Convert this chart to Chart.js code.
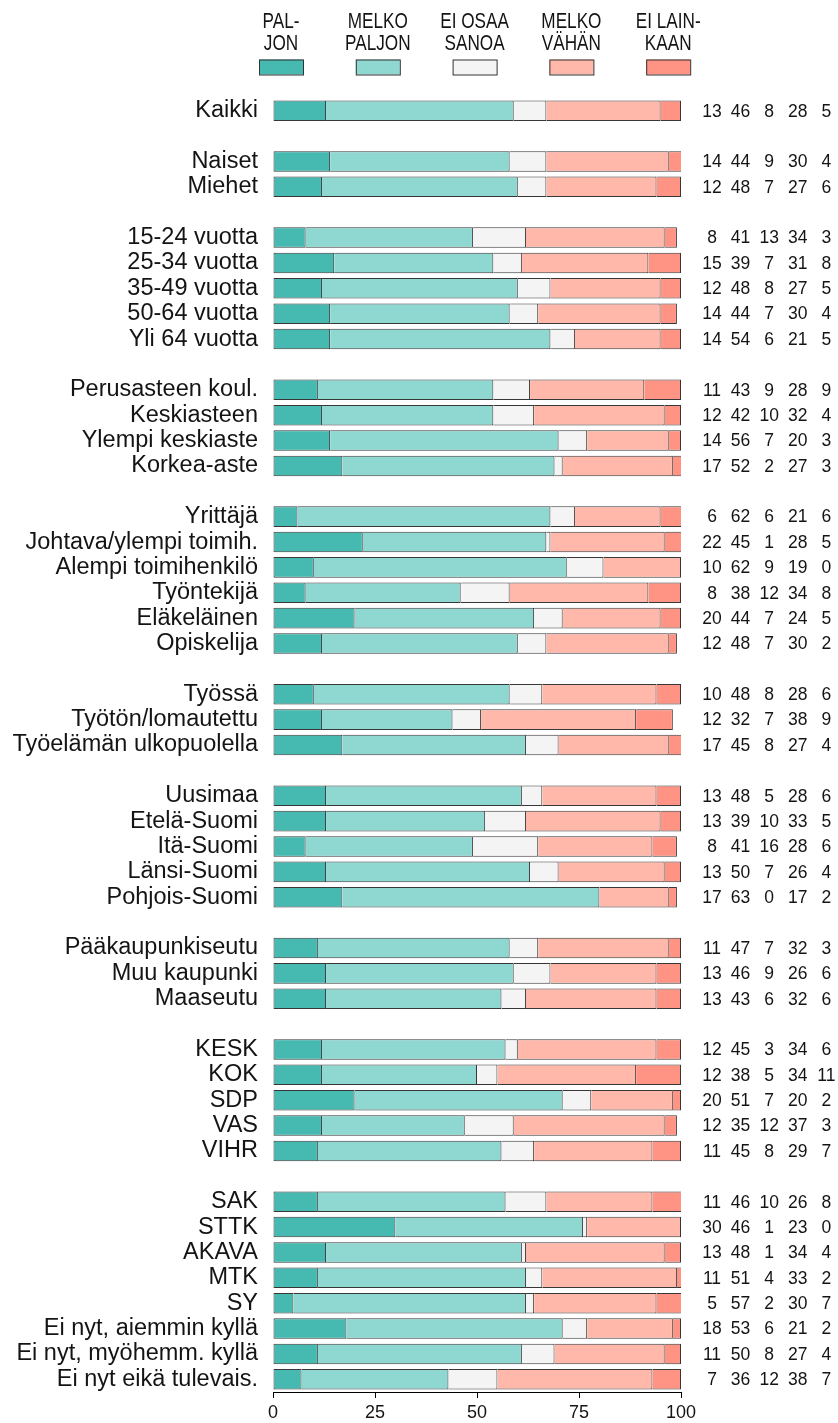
<!DOCTYPE html>
<html lang="fi">
<head>
<meta charset="utf-8">
<title>Kannatus taustaryhmittäin</title>
<script src="https://cdn.jsdelivr.net/npm/chart.js@4/dist/chart.umd.min.js"></script>
<style>
  html, body { margin: 0; padding: 0; background: #ffffff; }
  #wrap { position: relative; width: 838px; height: 1423px; }
</style>
</head>
<body>
<div id="wrap"><canvas id="chart"></canvas></div>
<script>
// Row labels; empty strings are spacer rows between groups
const categories = [
  'Kaikki', '',
  'Naiset', 'Miehet', '',
  '15-24 vuotta', '25-34 vuotta', '35-49 vuotta', '50-64 vuotta', 'Yli 64 vuotta', '',
  'Perusasteen koul.', 'Keskiasteen', 'Ylempi keskiaste', 'Korkea-aste', '',
  'Yrittäjä', 'Johtava/ylempi toimih.', 'Alempi toimihenkilö', 'Työntekijä', 'Eläkeläinen', 'Opiskelija', '',
  'Työssä', 'Työtön/lomautettu', 'Työelämän ulkopuolella', '',
  'Uusimaa', 'Etelä-Suomi', 'Itä-Suomi', 'Länsi-Suomi', 'Pohjois-Suomi', '',
  'Pääkaupunkiseutu', 'Muu kaupunki', 'Maaseutu', '',
  'KESK', 'KOK', 'SDP', 'VAS', 'VIHR', '',
  'SAK', 'STTK', 'AKAVA', 'MTK', 'SY', 'Ei nyt, aiemmin kyllä', 'Ei nyt, myöhemm. kyllä', 'Ei nyt eikä tulevais.'
];

// Shares (%) per answer option, aligned with categories
const paljon = [
  13, null,
  14, 12, null,
  8, 15, 12, 14, 14, null,
  11, 12, 14, 17, null,
  6, 22, 10, 8, 20, 12, null,
  10, 12, 17, null,
  13, 13, 8, 13, 17, null,
  11, 13, 13, null,
  12, 12, 20, 12, 11, null,
  11, 30, 13, 11, 5, 18, 11, 7
];
const melkoPaljon = [
  46, null,
  44, 48, null,
  41, 39, 48, 44, 54, null,
  43, 42, 56, 52, null,
  62, 45, 62, 38, 44, 48, null,
  48, 32, 45, null,
  48, 39, 41, 50, 63, null,
  47, 46, 43, null,
  45, 38, 51, 35, 45, null,
  46, 46, 48, 51, 57, 53, 50, 36
];
const eiOsaa = [
  8, null,
  9, 7, null,
  13, 7, 8, 7, 6, null,
  9, 10, 7, 2, null,
  6, 1, 9, 12, 7, 7, null,
  8, 7, 8, null,
  5, 10, 16, 7, 0, null,
  7, 9, 6, null,
  3, 5, 7, 12, 8, null,
  10, 1, 1, 4, 2, 6, 8, 12
];
const melkoVahan = [
  28, null,
  30, 27, null,
  34, 31, 27, 30, 21, null,
  28, 32, 20, 27, null,
  21, 28, 19, 34, 24, 30, null,
  28, 38, 27, null,
  28, 33, 28, 26, 17, null,
  32, 26, 32, null,
  34, 34, 20, 37, 29, null,
  26, 23, 34, 33, 30, 21, 27, 38
];
const eiLainkaan = [
  5, null,
  4, 6, null,
  3, 8, 5, 4, 5, null,
  9, 4, 3, 3, null,
  6, 5, 0, 8, 5, 2, null,
  6, 9, 4, null,
  6, 5, 6, 4, 2, null,
  3, 6, 6, null,
  6, 11, 2, 3, 7, null,
  8, 0, 4, 2, 7, 2, 4, 7
];

// Legend captions, two lines each
const seriesLabels = [
  ['PAL-', 'JON'],
  ['MELKO', 'PALJON'],
  ['EI OSAA', 'SANOA'],
  ['MELKO', 'VÄHÄN'],
  ['EI LAIN-', 'KAAN']
];
const xTicks = [0, 25, 50, 75, 100];

const seriesData = [paljon, melkoPaljon, eiOsaa, melkoVahan, eiLainkaan];
const seriesColors = ['#46b9b1', '#8fd8d2', '#f4f4f4', '#ffb8aa', '#ff9384'];
const FONT = '"Liberation Sans", Arial, Helvetica, sans-serif';
const INK = '#141414';

// Legend drawn above the plot: caption lines over a colour swatch
const topLegend = {
  id: 'topLegend',
  afterDraw(chart) {
    const ctx = chart.ctx;
    const left = chart.chartArea.left;
    chart.data.datasets.forEach((ds, i) => {
      const cx = left + 8 + i * 96.8;
      ctx.save();
      ctx.fillStyle = INK;
      ctx.font = '22px ' + FONT;
      ctx.textAlign = 'center';
      ctx.textBaseline = 'alphabetic';
      ds.label.forEach((line, j) => {
        ctx.save();
        ctx.translate(cx, 28 + j * 22);
        ctx.scale(0.78, 1);
        ctx.fillText(line, 0, 0);
        ctx.restore();
      });
      ctx.fillStyle = ds.backgroundColor;
      ctx.strokeStyle = '#333333';
      ctx.lineWidth = 1;
      ctx.fillRect(cx - 22, 59.5, 44, 15);
      ctx.strokeRect(cx - 22 + 0.5, 59.5 + 0.5, 44, 15);
      ctx.restore();
    });
  }
};

// Numeric shares printed in columns to the right of every bar
const rowValues = {
  id: 'rowValues',
  afterDraw(chart) {
    const ctx = chart.ctx;
    const yScale = chart.scales.y;
    ctx.save();
    ctx.fillStyle = INK;
    ctx.font = '17.5px ' + FONT;
    ctx.textAlign = 'center';
    ctx.textBaseline = 'middle';
    chart.data.labels.forEach((lab, idx) => {
      if (!lab) return;
      const y = yScale.getPixelForValue(idx);
      chart.data.datasets.forEach((ds, i) => {
        const v = ds.data[idx];
        if (v === null || v === undefined) return;
        ctx.fillText(String(v), 712 + i * 28.6, y + 1);
      });
    });
    ctx.restore();
  }
};

const datasets = seriesData.map((data, i) => ({
  label: seriesLabels[i],
  data: data,
  backgroundColor: seriesColors[i],
  borderColor: 'rgba(20,20,20,0.85)',
  borderWidth: { left: i === 0 ? 1 : 0, right: 1, top: 1, bottom: 1 },
  borderSkipped: false,
  barPercentage: 0.81,
  categoryPercentage: 1.0
}));

new Chart(document.getElementById('chart'), {
  type: 'bar',
  data: { labels: categories, datasets: datasets },
  options: {
    indexAxis: 'y',
    responsive: true,
    maintainAspectRatio: false,
    animation: false,
    layout: { padding: { top: 98, right: 157, bottom: 0, left: 0 } },
    plugins: {
      legend: { display: false },
      tooltip: { enabled: false }
    },
    scales: {
      x: {
        stacked: true,
        min: 0,
        max: 100,
        afterBuildTicks(scale) {
          scale.ticks = xTicks.map(v => ({ value: v }));
        },
        afterFit(scale) { scale.height = 31; },
        grid: { drawOnChartArea: false, drawTicks: true, tickLength: 6, color: '#000000' },
        border: { display: true, color: '#000000', width: 1 },
        ticks: { font: { family: FONT, size: 18 }, color: INK, padding: 4, maxRotation: 0 }
      },
      y: {
        stacked: true,
        afterFit(scale) { scale.width = 273; },
        grid: { display: false, drawTicks: false },
        border: { display: false },
        ticks: { autoSkip: false, font: { family: FONT, size: 23.5 }, color: INK, padding: 15 }
      }
    }
  },
  plugins: [topLegend, rowValues]
});
</script>
</body>
</html>
